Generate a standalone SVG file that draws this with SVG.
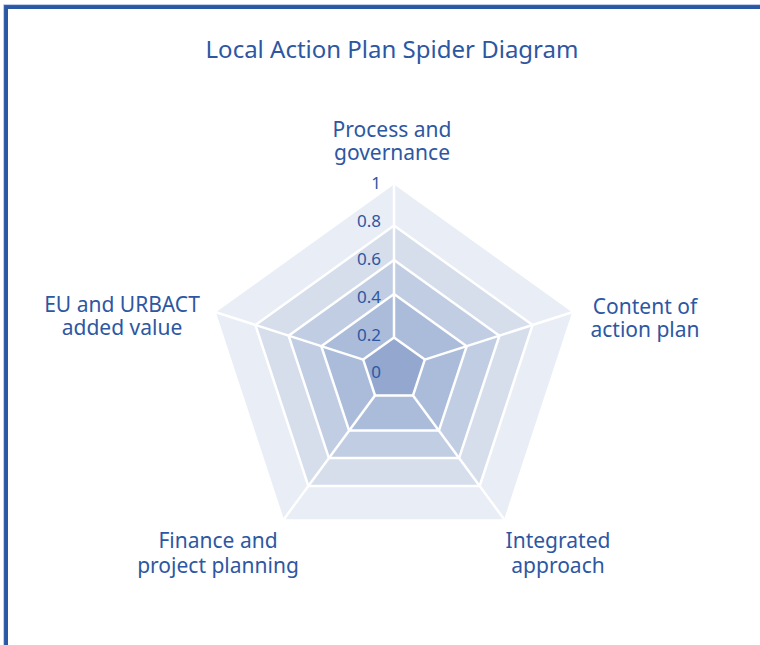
<svg xmlns="http://www.w3.org/2000/svg" width="760" height="645" viewBox="0 0 760 645">
<style>
text{font-family:"Noto Sans","Open Sans","DejaVu Sans",sans-serif;fill:#2d57a2}
.title{font-size:24px}
.lbl{font-size:21px;text-anchor:middle}
.tick{font-size:17px;text-anchor:end}
.ring{stroke:#ffffff;stroke-width:2.5;stroke-linejoin:miter}
.spoke{stroke:#ffffff;stroke-width:2.5}
</style>
<rect width="760" height="645" fill="#ffffff"/>
<path d="M6,645 V7 H760" fill="none" stroke="#2b58a5" stroke-width="4"/>
<path d="M3.6,645 V4.6 H760" fill="none" stroke="#a9bde2" stroke-width="0.8"/>
<text class="title" x="392" y="58" text-anchor="middle">Local Action Plan Spider Diagram</text>
<g id="grid">
<polygon points="394,184.5 572.1,312.3 504.1,519.2 283.9,519.2 215.9,312.3" fill="#e8edf6"/>
<polygon class="ring" points="394,225.5 532.6,325 479.7,486 308.3,486 255.4,325" fill="#d6deec"/>
<polygon class="ring" points="394,260 499.4,335.7 459.1,458.1 328.9,458.1 288.6,335.7" fill="#c1cde3"/>
<polygon class="ring" points="394,294 466.7,346.2 438.9,430.6 349.1,430.6 321.3,346.2" fill="#abbcda"/>
<polygon class="ring" points="394,337.5 424.8,359.6 413,395.4 375,395.4 363.2,359.6" fill="#94a8cf"/>
</g>
<g id="connectors">
<line class="spoke" x1="394" y1="337.5" x2="394" y2="184.5"/>
<line class="spoke" x1="424.8" y1="359.6" x2="572.1" y2="312.3"/>
<line class="spoke" x1="413" y1="395.4" x2="504.1" y2="519.2"/>
<line class="spoke" x1="375" y1="395.4" x2="283.9" y2="519.2"/>
<line class="spoke" x1="363.2" y1="359.6" x2="215.9" y2="312.3"/>
</g>
<g id="ticks">
<text class="tick" x="381" y="189">1</text>
<text class="tick" x="381" y="227">0.8</text>
<text class="tick" x="381" y="265">0.6</text>
<text class="tick" x="381" y="303">0.4</text>
<text class="tick" x="381" y="341">0.2</text>
<text class="tick" x="381" y="378">0</text>
</g>
<g id="node-process">
<text class="lbl" x="392" y="137">Process and</text>
<text class="lbl" x="392" y="160">governance</text>
</g>
<g id="node-content">
<text class="lbl" x="645" y="314">Content of</text>
<text class="lbl" x="645" y="337">action plan</text>
</g>
<g id="node-integrated">
<text class="lbl" x="558" y="548">Integrated</text>
<text class="lbl" x="558" y="573">approach</text>
</g>
<g id="node-finance">
<text class="lbl" x="218" y="548">Finance and</text>
<text class="lbl" x="218" y="573">project planning</text>
</g>
<g id="node-eu">
<text class="lbl" x="122" y="312">EU and URBACT</text>
<text class="lbl" x="122" y="335">added value</text>
</g>
</svg>
